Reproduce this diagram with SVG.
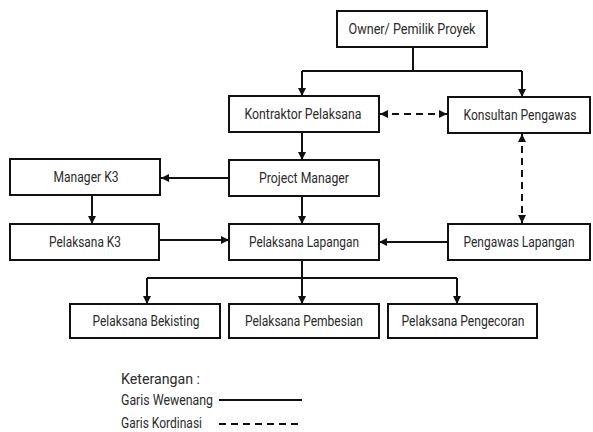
<svg xmlns="http://www.w3.org/2000/svg" width="593" height="432" viewBox="0 0 593 432">
<style>
.box{fill:#fff;stroke:#111;stroke-width:2}
.t{font-family:Roboto,"Noto Sans",sans-serif;font-size:14px;fill:#2a2a2a;text-anchor:middle}
.l{font-family:Roboto,"Noto Sans",sans-serif;font-size:14px;fill:#2a2a2a}
.c{fill:none;stroke:#111;stroke-width:2}
.d{fill:none;stroke:#111;stroke-width:2;stroke-dasharray:7,5}
</style>
<defs>
<marker id="ah" viewBox="0 0 8 8" refX="8" refY="4" markerWidth="8" markerHeight="8" markerUnits="userSpaceOnUse" orient="auto-start-reverse">
<path d="M0,0 L8,4 L0,8 z" fill="#111"/>
</marker>
</defs>
<rect width="593" height="432" fill="#fff"/>
<g id="connectors">
<path class="c" d="M413,47 V71"/>
<path class="c" d="M302,71 H522"/>
<path class="c" d="M302,71 V96" marker-end="url(#ah)"/>
<path class="c" d="M522,71 V97" marker-end="url(#ah)"/>
<path class="c" d="M302,132 V160" marker-end="url(#ah)"/>
<path class="c" d="M229,178 H161" marker-end="url(#ah)"/>
<path class="c" d="M92,195 V224" marker-end="url(#ah)"/>
<path class="c" d="M159,240 H229" marker-end="url(#ah)"/>
<path class="c" d="M448,242 H379" marker-end="url(#ah)"/>
<path class="c" d="M302,196 V224" marker-end="url(#ah)"/>
<path class="c" d="M302,260 V278"/>
<path class="c" d="M147,278 H457"/>
<path class="c" d="M147,278 V304" marker-end="url(#ah)"/>
<path class="c" d="M302,278 V304" marker-end="url(#ah)"/>
<path class="c" d="M457,278 V304" marker-end="url(#ah)"/>
<path class="d" d="M380,114 H447" marker-start="url(#ah)" marker-end="url(#ah)"/>
<path class="d" d="M522,134 V223" marker-start="url(#ah)" marker-end="url(#ah)"/>
</g>
<g id="owner"><rect class="box" x="337" y="11" width="150" height="36"/><text class="t" x="412" y="34" textLength="127" lengthAdjust="spacingAndGlyphs">Owner/ Pemilik Proyek</text></g>
<g id="kontraktor"><rect class="box" x="229" y="96" width="150" height="36"/><text class="t" x="303" y="119" textLength="117" lengthAdjust="spacingAndGlyphs">Kontraktor Pelaksana</text></g>
<g id="konsultan"><rect class="box" x="448" y="97" width="142" height="36"/><text class="t" x="520" y="120" textLength="113" lengthAdjust="spacingAndGlyphs">Konsultan Pengawas</text></g>
<g id="pm"><rect class="box" x="229" y="160" width="150" height="36"/><text class="t" x="304" y="183" textLength="90" lengthAdjust="spacingAndGlyphs">Project Manager</text></g>
<g id="managerk3"><rect class="box" x="10" y="159" width="150" height="36"/><text class="t" x="86" y="182" textLength="65" lengthAdjust="spacingAndGlyphs">Manager K3</text></g>
<g id="pelaksanak3"><rect class="box" x="10" y="224" width="149" height="36"/><text class="t" x="85" y="247" textLength="72" lengthAdjust="spacingAndGlyphs">Pelaksana K3</text></g>
<g id="pelaksanalapangan"><rect class="box" x="229" y="224" width="150" height="36"/><text class="t" x="304" y="247" textLength="110" lengthAdjust="spacingAndGlyphs">Pelaksana Lapangan</text></g>
<g id="pengawaslapangan"><rect class="box" x="448" y="224" width="142" height="36"/><text class="t" x="519" y="247" textLength="111" lengthAdjust="spacingAndGlyphs">Pengawas Lapangan</text></g>
<g id="bekisting"><rect class="box" x="70" y="304" width="150" height="34"/><text class="t" x="146" y="326" textLength="107" lengthAdjust="spacingAndGlyphs">Pelaksana Bekisting</text></g>
<g id="pembesian"><rect class="box" x="229" y="304" width="150" height="34"/><text class="t" x="304" y="326" textLength="118" lengthAdjust="spacingAndGlyphs">Pelaksana Pembesian</text></g>
<g id="pengecoran"><rect class="box" x="388" y="304" width="149" height="34"/><text class="t" x="463" y="326" textLength="123" lengthAdjust="spacingAndGlyphs">Pelaksana Pengecoran</text></g>
<g id="legend">
<text class="l" x="121" y="384" textLength="79" lengthAdjust="spacingAndGlyphs">Keterangan :</text>
<text class="l" x="121" y="405" textLength="92" lengthAdjust="spacingAndGlyphs">Garis Wewenang</text>
<text class="l" x="121" y="428" textLength="81" lengthAdjust="spacingAndGlyphs">Garis Kordinasi</text>
<path class="c" d="M219,400 H302"/>
<path class="d" d="M219,424 H302"/>
</g>
</svg>
